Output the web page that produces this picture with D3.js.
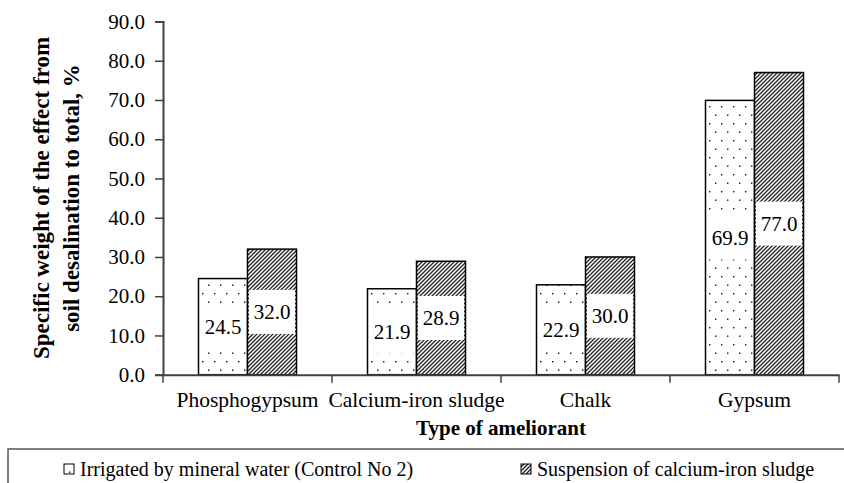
<!DOCTYPE html>
<html><head><meta charset="utf-8">
<script src="https://cdn.jsdelivr.net/npm/d3@7"></script>
<style>
html,body{margin:0;padding:0;background:#fff;}
svg{display:block;}
</style></head>
<body><svg id="chart" width="844" height="483"></svg>
<script>
const categories = ["Phosphogypsum", "Calcium-iron sludge", "Chalk", "Gypsum"];
const seriesNames = ["Irrigated by mineral water (Control No 2)", "Suspension of calcium-iron sludge"];
const controlValues = [24.5, 21.9, 22.9, 69.9];
const suspensionValues = [32.0, 28.9, 30.0, 77.0];
const yTickValues = [0, 10, 20, 30, 40, 50, 60, 70, 80, 90];
const yTitleLines = ["Specific weight of the effect from", "soil desalination to total, %"];
const xTitle = "Type of ameliorant";

const FONT = "'Liberation Serif', 'Times New Roman', serif";
const svg = d3.select("#chart").attr("font-family", FONT);
const defs = svg.append("defs");

// dotted pattern
const pd = defs.append("pattern").attr("id", "dots").attr("patternUnits", "userSpaceOnUse")
  .attr("width", 12).attr("height", 17);
pd.append("rect").attr("width", 12).attr("height", 17).attr("fill", "#fff");
pd.append("rect").attr("x", 3).attr("y", 4).attr("width", 1.4).attr("height", 1.4).attr("fill", "#111");
pd.append("rect").attr("x", 9).attr("y", 12.5).attr("width", 1.4).attr("height", 1.4).attr("fill", "#111");

// hatch pattern
const ph = defs.append("pattern").attr("id", "hatch").attr("patternUnits", "userSpaceOnUse")
  .attr("width", 4).attr("height", 4);
ph.append("rect").attr("width", 4).attr("height", 4).attr("fill", "#fff");
ph.append("path").attr("d", "M-1,1 l2,-2 M0,4 l4,-4 M3,5 l2,-2")
  .attr("stroke", "#222").attr("stroke-width", 1.3);

const fills = ["url(#dots)", "url(#hatch)"];

const x0 = 163, x1 = 839, yBase = 374.7, yTop = 21.5;
const x = d3.scaleBand().domain(categories).range([x0, x1]).padding(0);
const y = d3.scaleLinear().domain([0, 90]).range([yBase, yTop]);
const barW = 49;
const xs = d3.scaleBand().domain([0, 1]).range([x.bandwidth() / 2 - barW, x.bandwidth() / 2 + barW]).padding(0);

const data = categories.map((c, i) => ({ cat: c, vals: [controlValues[i], suspensionValues[i]] }));

// bars
const g = svg.append("g");
const groups = g.selectAll("g.cat").data(data).join("g")
  .attr("transform", d => `translate(${x(d.cat)},0)`);
groups.selectAll("rect.bar").data(d => d.vals.map((v, s) => ({ v, s }))).join("rect")
  .attr("class", "bar")
  .attr("x", d => xs(d.s))
  .attr("y", d => y(d.v))
  .attr("width", xs.bandwidth())
  .attr("height", d => y(0) - y(d.v))
  .attr("fill", d => fills[d.s])
  .attr("stroke", "#000").attr("stroke-width", 1.5);

// value labels with white box
const lab = groups.selectAll("g.lab").data(d => d.vals.map((v, s) => ({ v, s }))).join("g")
  .attr("class", "lab");
lab.append("rect")
  .attr("x", d => xs(d.s) + 1.5)
  .attr("y", d => (y(d.v) + y(0)) / 2 - 22)
  .attr("width", xs.bandwidth() - 3)
  .attr("height", 44)
  .attr("fill", "#fff");
lab.append("text")
  .attr("x", d => xs(d.s) + xs.bandwidth() / 2)
  .attr("y", d => (y(d.v) + y(0)) / 2)
  .attr("dy", "0.35em")
  .attr("text-anchor", "middle")
  .attr("font-family", FONT)
  .attr("font-size", 21)
  .attr("fill", "#000")
  .text(d => d.v.toFixed(1));

// y axis
const yAxis = svg.append("g").attr("transform", `translate(${x0},0)`)
  .call(d3.axisLeft(y).tickValues(yTickValues).tickFormat(d => d.toFixed(1)).tickSize(8).tickPadding(10));
yAxis.attr("font-family", FONT).attr("font-size", 21);
yAxis.select(".domain").attr("stroke", "#404040").attr("stroke-width", 2);
yAxis.selectAll(".tick line").attr("stroke", "#404040").attr("stroke-width", 1.5);
yAxis.selectAll(".tick text").attr("font-size", 21).attr("font-family", FONT).attr("fill", "#000");

// x axis
const xAxis = svg.append("g").attr("transform", `translate(0,${yBase})`)
  .call(d3.axisBottom(x).tickSize(0).tickPadding(17));
xAxis.attr("font-family", FONT).attr("font-size", 21);
xAxis.select(".domain").attr("stroke", "#404040").attr("stroke-width", 2);
xAxis.selectAll(".tick text").attr("font-size", 21.5).attr("font-family", FONT).attr("fill", "#000");
// boundary ticks
const bounds = [x0].concat(categories.map(c => x(c) + x.bandwidth()));
xAxis.selectAll("line.bt").data(bounds).join("line").attr("class", "bt")
  .attr("x1", d => d).attr("x2", d => d).attr("y1", 0).attr("y2", 8)
  .attr("stroke", "#404040").attr("stroke-width", 1.5);

// x title
svg.append("text").attr("x", (x0 + x1) / 2).attr("y", 435).attr("text-anchor", "middle")
  .attr("font-family", FONT).attr("font-size", 21).attr("font-weight", "bold").text(xTitle);

// y title
const yt = svg.append("text").attr("transform", "translate(0,198) rotate(-90)")
  .attr("text-anchor", "middle").attr("font-family", FONT).attr("font-size", 23).attr("font-weight", "bold");
yTitleLines.forEach((t, i) => {
  yt.append("tspan").attr("x", 0).attr("y", 49 + i * 30).text(t);
});

// legend
svg.append("rect").attr("x", 8).attr("y", 449).attr("width", 850).attr("height", 60)
  .attr("fill", "none").attr("stroke", "#555").attr("stroke-width", 1.5);
const legendX = [64, 521];
seriesNames.forEach((n, i) => {
  svg.append("rect").attr("x", legendX[i]).attr("y", 464).attr("width", 10).attr("height", 10)
    .attr("fill", fills[i]).attr("stroke", "#000").attr("stroke-width", 1);
  svg.append("text").attr("x", legendX[i] + 16).attr("y", 476)
    .attr("font-family", FONT).attr("font-size", 20).text(n);
});
</script></body></html>
